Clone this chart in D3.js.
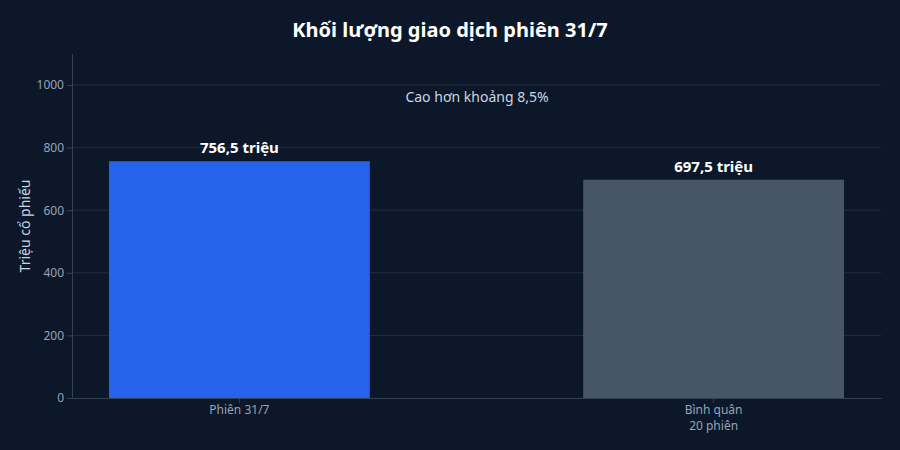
<!DOCTYPE html>
<html><head><meta charset="utf-8">
<script src="https://cdn.jsdelivr.net/npm/d3@7"></script>
<style>body{margin:0;background:#0c1829;}text{font-family:"Noto Sans",sans-serif;}</style>
</head><body><svg id="c" width="900" height="450"></svg>
<script>
const categories = ["Phiên 31/7", "Bình quân\n20 phiên"];
const values = [756.5, 697.5];
const labels = ["756,5 triệu", "697,5 triệu"];
const colors = ["#2563eb", "#475569"];
const yTicks = [0, 200, 400, 600, 800, 1000];

const svg = d3.select("#c");
svg.append("rect").attr("width",900).attr("height",450).attr("fill","#0c1829");
const m = {l:72, r:19, t:54, b:52};
const x = d3.scaleBand().domain(categories).range([m.l, 900-m.r]).paddingInner(0.45).paddingOuter(0.078);
const y = d3.scaleLinear().domain([0,1100]).range([398, 398-344.3]);

const g = svg.append("g");
g.selectAll(".grid").data(yTicks.filter(d=>d>0)).join("line")
 .attr("x1",m.l).attr("x2",900-m.r).attr("y1",d=>y(d)).attr("y2",d=>y(d))
 .attr("stroke","#1f2e42").attr("stroke-width",1);

g.selectAll(".bar").data(values).join("rect")
 .attr("x",(d,i)=>x(categories[i])).attr("width",x.bandwidth())
 .attr("y",d=>y(d)).attr("height",d=>y(0)-y(d)).attr("fill",(d,i)=>colors[i]);

g.selectAll(".lbl").data(values).join("text")
 .attr("x",(d,i)=>x(categories[i])+x.bandwidth()/2).attr("y",d=>y(d)-8)
 .attr("text-anchor","middle").attr("fill","#ffffff").attr("font-size",15).attr("font-weight","bold")
 .text((d,i)=>labels[i]);

const ya = svg.append("g").attr("transform",`translate(${m.l},0)`)
 .call(d3.axisLeft(y).tickValues(yTicks).tickSize(5).tickSizeOuter(0).tickFormat(d=>d));
ya.select(".domain").attr("stroke","#334155");
ya.selectAll(".tick line").attr("stroke","#334155");
ya.selectAll("text").attr("fill","#94a3b8").attr("font-size",12);

const xa = svg.append("g").attr("transform",`translate(0,398)`)
 .call(d3.axisBottom(x).tickSize(5).tickSizeOuter(0).tickFormat(""));
xa.select(".domain").attr("stroke","#334155");
xa.selectAll(".tick line").attr("stroke","#334155");
xa.selectAll(".tick").each(function(d){
  d.split("\n").forEach((s,i)=>d3.select(this).append("text").attr("fill","#94a3b8").attr("font-size",12)
   .attr("text-anchor","middle").attr("x",0).attr("y",16+i*16).text(s));
});

svg.append("text").attr("x",450).attr("y",37).attr("text-anchor","middle").attr("fill","#ffffff")
 .attr("font-size",20).attr("font-weight","bold").text("Khối lượng giao dịch phiên 31/7");
svg.append("text").attr("x",477).attr("y",102).attr("text-anchor","middle").attr("fill","#cbd5e1")
 .attr("font-size",14).text("Cao hơn khoảng 8,5%");
svg.append("text").attr("transform","translate(30,226) rotate(-90)").attr("text-anchor","middle")
 .attr("fill","#cbd5e1").attr("font-size",14).text("Triệu cổ phiếu");
</script></body></html>
